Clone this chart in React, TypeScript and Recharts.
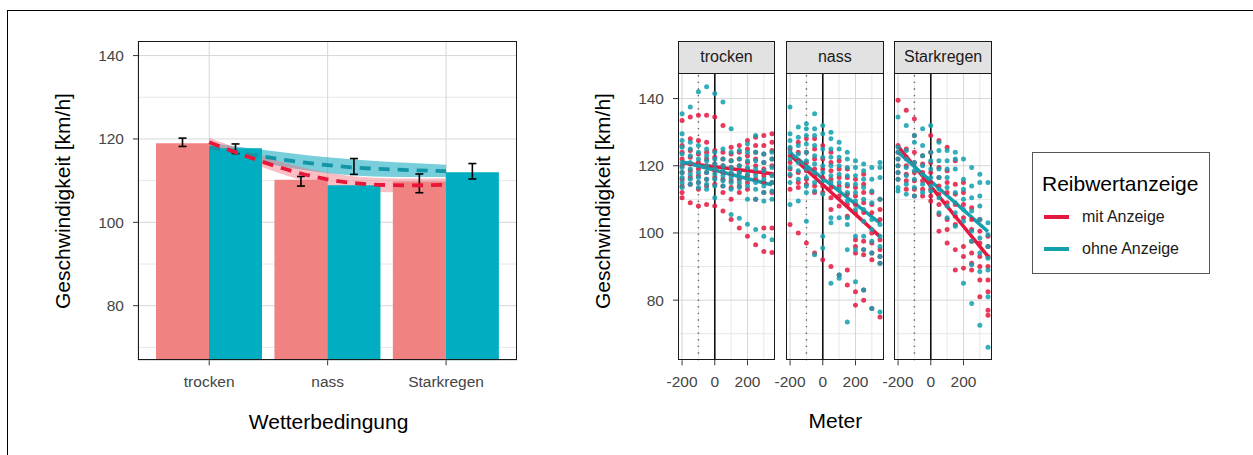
import React from 'react'
import {
  ComposedChart,
  Bar,
  Area,
  Line,
  Scatter,
  XAxis,
  YAxis,
  CartesianGrid,
  ErrorBar,
  ReferenceLine,
} from 'recharts'

const FONT = '"Liberation Sans", Arial, Helvetica, sans-serif'
const RED = '#E5173F'
const TEAL = '#12A0AF'

// left panel: mean speed per weather condition
const WETTER = ['trocken', 'nass', 'Starkregen']
const BAR_MIT = [119.0, 110.2, 109.8]
const BAR_OHNE = [117.8, 108.9, 112.0]
const ERR_MIT_LO = [118.2, 108.7, 107.1]
const ERR_MIT_HI = [120.2, 111.0, 111.6]
const ERR_OHNE_LO = [116.5, 111.5, 110.4]
const ERR_OHNE_HI = [118.8, 115.3, 114.1]
const TREND_MIT = [119.2, 110.3, 109.0]
const TREND_MIT_LO = [118.4, 108.6, 107.5]
const TREND_MIT_HI = [120.2, 111.9, 110.6]
const TREND_OHNE = [118.0, 113.7, 112.3]
const TREND_OHNE_LO = [117.0, 111.8, 110.9]
const TREND_OHNE_HI = [119.1, 115.6, 113.8]
const LEFT_TICKS = [80, 100, 120, 140]
const LEFT_MINOR = [70, 90, 110, 130]

// right panels: speed over distance (one list per 50 m column)
const METER = [-200, -150, -100, -50, 0, 50, 100, 150, 200, 250, 300, 350]
const METER_TICKS = [-200, 0, 200]
const METER_MINOR = [-100, 100, 300]
const SPEED_TICKS = [80, 100, 120, 140]
const SPEED_MINOR = [70, 90, 110, 130]
const FIT_METER = [-200, 350]

const TROCKEN_MIT = [
  [133.5, 126, 124, 122, 120, 118, 116, 114, 112, 110.5],
  [134.5, 128, 124.5, 122.5, 120.5, 118.5, 116.5, 114.5, 109],
  [135, 127.5, 123.5, 121, 119, 117, 115, 113, 108],
  [135, 127, 124, 122, 120, 118, 116, 114, 108.5],
  [134.5, 124.5, 122.5, 120.5, 118.5, 116.5, 114.5, 108],
  [132, 124, 122, 120, 118, 116, 114, 112, 106.5],
  [125.5, 123.5, 121.5, 119.5, 117.5, 115.5, 113.5, 110, 104],
  [126, 124, 122, 120, 118, 116, 114, 112, 101.5],
  [127.5, 125, 123, 121, 119, 117, 115, 113, 99],
  [128.5, 126, 124, 122, 120, 118, 116, 110, 96.5],
  [129, 126, 123.5, 121, 119, 117, 115, 112, 101.5, 94.5],
  [129.5, 127, 124.5, 122, 120, 117.5, 115, 112, 101.5, 94.2],
]
const TROCKEN_OHNE = [
  [135.5, 129.5, 127.5, 125.5, 123.5, 121, 119.5, 118, 116.5, 115, 113.5],
  [137.5, 127, 125, 123, 121, 119, 117.5, 116, 114.5],
  [142, 126, 124, 122, 120, 118, 116.5, 115, 113.5],
  [143.5, 125, 123, 121.5, 120, 118, 116, 114.5, 113],
  [141.5, 124, 122, 120.5, 119, 117.5, 116, 114, 110.5],
  [139, 125, 122, 120, 118.5, 117, 115.5, 114],
  [131, 124, 121.5, 119.5, 118, 116.5, 115, 113, 105.5],
  [124.5, 122, 120, 118, 116.5, 115, 113.5, 104.4],
  [126.5, 124, 121.5, 119.5, 117.5, 116, 114, 110, 102.6],
  [129, 124, 121.5, 119, 117, 115, 113, 110, 101],
  [123.5, 121, 118.5, 116, 114, 112, 109.5, 99],
  [124, 122, 119.5, 117, 115, 112.5, 110, 98],
]
const NASS_MIT = [
  [125, 123, 121, 119, 117, 113, 102.5],
  [127, 124, 121.5, 118, 115, 113.5, 100],
  [128, 124, 121, 118.5, 116, 114.5, 97],
  [128, 125, 122, 119, 117, 114, 112, 94],
  [126, 122, 119, 116.5, 114, 112, 92],
  [124, 121, 118.5, 116, 113.5, 110.5, 107, 90],
  [121.5, 119, 116.5, 114, 111, 108, 87.5],
  [119, 116.5, 114, 111.5, 108.5, 105, 89, 84.5],
  [116, 113.5, 111, 108.5, 106, 98, 96, 94, 82.5, 78.5],
  [117.5, 114.5, 112, 109, 106, 97.5, 95, 93.5, 83, 80],
  [112, 108.5, 106, 100, 97, 94, 92, 77.5],
  [110, 107, 104, 98, 95, 93, 91, 75],
]
const NASS_OHNE = [
  [137.5, 129.5, 127.5, 125.5, 124, 122, 119.5, 117.5, 115, 108.5],
  [131.5, 128.5, 126, 123.5, 121, 118.5, 116, 109.5],
  [132.5, 131, 129, 126.5, 124, 121.5, 119, 116.5, 114, 112, 103.5],
  [135.5, 131, 129, 126, 123, 120.5, 118, 115, 112.5, 93.5],
  [132, 129.5, 125, 122.5, 120, 118, 115.5, 111.5, 99, 95.5],
  [130, 128, 125, 122.5, 120, 117, 115, 104.5, 103, 85],
  [127, 125, 122.5, 120, 117.5, 115, 113, 104.5, 87.5, 86.5],
  [124, 122, 119.5, 117, 114.5, 112, 109.5, 104.5, 102.5, 95, 73.5],
  [121.5, 119.5, 117, 114.5, 112, 109.5, 107, 99, 95, 85.5],
  [120.5, 118.5, 116, 113.5, 110, 107, 103.5, 99, 95, 83],
  [119.5, 116, 112.5, 109, 104, 101, 97.5, 94, 77.5],
  [121, 119.5, 116.5, 110, 102.5, 99, 96, 93, 91, 76.5],
]
const STARK_MIT = [
  [139.5, 126, 124, 122, 120, 118, 116],
  [136.5, 125, 122.5, 120, 117.5, 115.5, 113],
  [134, 129, 124, 121, 118, 115.5, 113, 111],
  [123, 120.5, 118, 115.5, 113, 111],
  [129, 124, 121, 118, 115, 113, 111, 109.5],
  [127.5, 119.5, 116.5, 114, 111.5, 108.5, 105.5, 100.5],
  [125.5, 118.5, 115, 112, 109, 104, 101, 97],
  [121.5, 114.5, 111.5, 108.5, 105, 102.5, 95, 89],
  [115, 112, 108.5, 104.5, 96, 93, 89.5],
  [107.5, 104, 101, 97.5, 94, 91, 89],
  [104, 100.5, 97, 93, 90, 86, 81],
  [99, 96, 93, 90, 86, 82.5, 77, 75.5],
]
const STARK_OHNE = [
  [134.5, 125.5, 124, 122, 120, 118, 116, 113.5, 112.5],
  [132, 124.5, 122, 119.5, 117, 114.5, 111.5],
  [129, 127, 121, 118.5, 116, 113.5, 111],
  [131, 126, 123, 120, 117.5, 114.5, 112],
  [132, 124, 121.5, 119, 116.5, 114, 112.5],
  [127, 124.5, 121.5, 119, 116.5, 113, 110.5, 106],
  [124.5, 121.5, 119, 116.5, 113.5, 108, 104.5],
  [124, 122, 119, 112, 109, 106, 102],
  [122, 116, 113, 110, 107, 103.5, 85],
  [119.5, 114, 110.5, 106.5, 100.5, 97.5, 90.5, 79],
  [117.5, 115, 111, 108, 104, 98.5, 94, 88.5, 72.5],
  [115, 103, 99.5, 96, 92.5, 89, 81, 66],
]
const FIT_TROCKEN_MIT = [120.9, 117.6]
const FIT_TROCKEN_OHNE = [121.2, 114.3]
const FIT_NASS_MIT = [123.2, 98.9]
const FIT_NASS_OHNE = [123.8, 102.9]
const FIT_STARK_MIT = [125.8, 93.0]
const FIT_STARK_OHNE = [124.0, 100.4]

const barData = WETTER.map((w, i) => ({
  w,
  mit: BAR_MIT[i],
  ohne: BAR_OHNE[i],
  mitErr: [BAR_MIT[i] - ERR_MIT_LO[i], ERR_MIT_HI[i] - BAR_MIT[i]],
  ohneErr: [BAR_OHNE[i] - ERR_OHNE_LO[i], ERR_OHNE_HI[i] - BAR_OHNE[i]],
  mitBand: [TREND_MIT_LO[i], TREND_MIT_HI[i]],
  ohneBand: [TREND_OHNE_LO[i], TREND_OHNE_HI[i]],
  mitTrend: TREND_MIT[i],
  ohneTrend: TREND_OHNE[i],
}))

const tickStyle = { fontSize: 15.5, fill: '#444', fontFamily: FONT }
const noMargin = { top: 0, right: 0, bottom: 0, left: 0 }

const toPoints = (cols: number[][]) =>
  cols.flatMap((vals, i) => vals.map((v) => ({ m: METER[i], v })))
const toFit = (vals: number[]) => FIT_METER.map((m, i) => ({ m, v: vals[i] }))

const dot = (color: string) => (props: any) =>
  <circle cx={props.cx} cy={props.cy} r={2.5} fill={color} fillOpacity={0.85} />

// left panel plot box
const L_X = 138.2
const L_Y = 41
const L_W = 379.3
const L_H = 319.3

function BarPanel() {
  return (
    <>
      <div style={{ position: 'absolute', left: L_X - 60, top: L_Y }}>
        <ComposedChart width={L_W + 60} height={L_H + 40} data={barData} margin={noMargin} barGap={0} barSize={53}>
          <CartesianGrid horizontalValues={LEFT_MINOR} vertical={false} stroke="#e2e2e2" strokeWidth={0.8} />
          <CartesianGrid stroke="#d6d6d6" />
          <XAxis
            dataKey="w"
            padding={{ left: 12, right: 12 }}
            height={40}
            axisLine={false}
            tickSize={5}
            tickMargin={11}
            tickLine={{ stroke: '#333' }}
            tick={tickStyle}
          />
          <YAxis
            type="number"
            domain={[66.9, 143.5]}
            allowDataOverflow
            ticks={LEFT_TICKS}
            width={60}
            axisLine={false}
            tickSize={5}
            tickMargin={9}
            tickLine={{ stroke: '#333' }}
            tick={tickStyle}
          />
          <Bar dataKey="mit" fill="#F08282" isAnimationActive={false}>
            <ErrorBar dataKey="mitErr" width={4} stroke="#000" strokeWidth={1.6} />
          </Bar>
          <Bar dataKey="ohne" fill="#00ADC1" isAnimationActive={false}>
            <ErrorBar dataKey="ohneErr" width={4} stroke="#000" strokeWidth={1.6} />
          </Bar>
          <Area dataKey="ohneBand" type="natural" fill="#2FB3C6" fillOpacity={0.65} stroke="none" isAnimationActive={false} />
          <Area dataKey="mitBand" type="natural" fill="#F2707F" fillOpacity={0.45} stroke="none" isAnimationActive={false} />
          <Line dataKey="ohneTrend" type="natural" stroke="#1395A6" strokeWidth={3.8} strokeDasharray="11 8" dot={false} isAnimationActive={false} />
          <Line dataKey="mitTrend" type="natural" stroke="#E8173A" strokeWidth={3.8} strokeDasharray="11 8" dot={false} isAnimationActive={false} />
        </ComposedChart>
      </div>
      <div style={{ position: 'absolute', left: L_X, top: L_Y, width: L_W, height: L_H, border: '1.5px solid #1a1a1a', boxSizing: 'border-box', pointerEvents: 'none' }} />
    </>
  )
}

// facet geometry
const F_TOP = 72.7
const F_W = 97.6
const F_H = 287.3
const STRIP_TOP = 41
const F_PAD = 22

function Facet({ title, left, withAxis, mit, ohne, fitMit, fitOhne }: any) {
  const axisW = withAxis ? 50 : 0
  return (
    <>
      <div
        style={{
          position: 'absolute',
          left,
          top: STRIP_TOP,
          width: F_W,
          height: F_TOP - STRIP_TOP + 1,
          background: '#e2e2e2',
          border: '1.5px solid #1a1a1a',
          boxSizing: 'border-box',
          display: 'flex',
          alignItems: 'center',
          justifyContent: 'center',
          fontSize: 16,
          color: '#1a1a1a',
        }}
      >
        {title}
      </div>
      <div style={{ position: 'absolute', left: left - axisW - F_PAD, top: F_TOP }}>
        <ComposedChart
          width={F_W + axisW + 2 * F_PAD}
          height={F_H + 40}
          margin={{ top: 0, right: F_PAD, bottom: 0, left: F_PAD }}
        >
          <CartesianGrid horizontalValues={SPEED_MINOR} verticalValues={METER_MINOR} stroke="#e2e2e2" strokeWidth={0.8} />
          <CartesianGrid horizontalValues={SPEED_TICKS} verticalValues={METER_TICKS} stroke="#d6d6d6" />
          <XAxis
            dataKey="m"
            type="number"
            domain={[-225, 372]}
            allowDataOverflow
            ticks={METER_TICKS}
            height={40}
            axisLine={false}
            tickSize={5}
            tickMargin={11}
            tickLine={{ stroke: '#333' }}
            tick={tickStyle}
            interval={0}
          />
          <YAxis
            dataKey="v"
            type="number"
            domain={[62.1, 147.6]}
            allowDataOverflow
            ticks={SPEED_TICKS}
            hide={!withAxis}
            width={50}
            axisLine={false}
            tickSize={5}
            tickMargin={9}
            tickLine={{ stroke: '#333' }}
            tick={tickStyle}
          />
          <ReferenceLine x={-100} stroke="#666" strokeWidth={1.4} strokeDasharray="1.4 5.2" />
          <ReferenceLine x={0} stroke="#111" strokeWidth={1.6} />
          <Scatter data={toPoints(mit)} shape={dot(RED)} isAnimationActive={false} />
          <Scatter data={toPoints(ohne)} shape={dot(TEAL)} isAnimationActive={false} />
          <Line data={toFit(fitMit)} dataKey="v" stroke={RED} strokeWidth={3.5} dot={false} isAnimationActive={false} />
          <Line data={toFit(fitOhne)} dataKey="v" stroke={TEAL} strokeWidth={3.5} dot={false} isAnimationActive={false} />
        </ComposedChart>
      </div>
      <div style={{ position: 'absolute', left, top: F_TOP, width: F_W, height: F_H, border: '1.5px solid #1a1a1a', boxSizing: 'border-box', pointerEvents: 'none' }} />
    </>
  )
}

const title = (x: number, y: number, rotate = false): React.CSSProperties => ({
  position: 'absolute',
  left: x,
  top: y,
  transform: `translate(-50%, -50%)${rotate ? ' rotate(-90deg)' : ''}`,
  whiteSpace: 'nowrap',
  fontSize: 21,
  color: '#000',
})

export default function App() {
  return (
    <div style={{ position: 'absolute', left: 0, top: 0, width: 1253, height: 455, overflow: 'hidden', background: '#fff', fontFamily: FONT }}>
      <div style={{ position: 'absolute', left: 7, top: 10, right: 0, bottom: 0, borderTop: '1px solid #000', borderLeft: '1px solid #000' }} />

      <BarPanel />
      <div style={title(63.4, 200.5, true)}>Geschwindigkeit [km/h]</div>
      <div style={title(328.6, 421.5)}>Wetterbedingung</div>

      <Facet title="trocken" left={677.7} withAxis mit={TROCKEN_MIT} ohne={TROCKEN_OHNE} fitMit={FIT_TROCKEN_MIT} fitOhne={FIT_TROCKEN_OHNE} />
      <Facet title="nass" left={786} mit={NASS_MIT} ohne={NASS_OHNE} fitMit={FIT_NASS_MIT} fitOhne={FIT_NASS_OHNE} />
      <Facet title="Starkregen" left={894.3} mit={STARK_MIT} ohne={STARK_OHNE} fitMit={FIT_STARK_MIT} fitOhne={FIT_STARK_OHNE} />
      <div style={title(602.8, 200.5, true)}>Geschwindigkeit [km/h]</div>
      <div style={title(835.3, 421)}>Meter</div>

      {/* legend */}
      <div style={{ position: 'absolute', left: 1032, top: 151.7, width: 178, height: 122.6, border: '1px solid #555', boxSizing: 'border-box' }}>
        <div style={{ position: 'absolute', left: 9, top: 19, fontSize: 21, color: '#000', whiteSpace: 'nowrap' }}>Reibwertanzeige</div>
        {[
          { label: 'mit Anzeige', color: RED, top: 64 },
          { label: 'ohne Anzeige', color: TEAL, top: 96 },
        ].map((it) => (
          <React.Fragment key={it.label}>
            <div style={{ position: 'absolute', left: 11, top: it.top - 2, width: 25, height: 4, background: it.color }} />
            <div style={{ position: 'absolute', left: 49, top: it.top - 10, fontSize: 16, color: '#1a1a1a', whiteSpace: 'nowrap', lineHeight: '20px' }}>{it.label}</div>
          </React.Fragment>
        ))}
      </div>
    </div>
  )
}
